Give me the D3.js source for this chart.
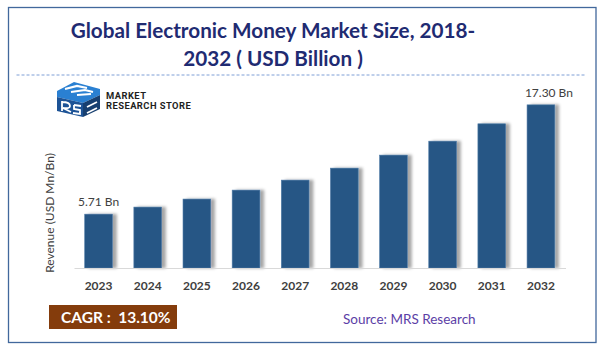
<!DOCTYPE html>
<html>
<head>
<meta charset="utf-8">
<script src="https://cdn.jsdelivr.net/npm/d3@7"></script>
<style>
body { margin: 0; background: #fff; }
svg { display: block; }
</style>
</head>
<body>
<div id="chart"></div>
<script>
// chart data
var years = ["2023", "2024", "2025", "2026", "2027", "2028", "2029", "2030", "2031", "2032"];
var revenue = [5.71, 6.46, 7.31, 8.26, 9.32, 10.59, 11.97, 13.45, 15.29, 17.30];
var barLabels = ["5.71 Bn", "", "", "", "", "", "", "", "", "17.30 Bn"];
var titleLines = ["Global Electronic Money Market Size, 2018-", "2032 ( USD Billion )"];
var logoLines = ["MARKET", "RESEARCH STORE"];
var yTitle = "Revenue (USD Mn/Bn)";
var cagrText = "CAGR :  13.10%";
var sourceText = "Source: MRS Research";

var svgWidth = 601, svgHeight = 349;

var svg = d3.select("#chart")
	.append("svg")
	.attr("width", svgWidth)
	.attr("height", svgHeight);

// shadow for the bars
var defs = svg.append("defs");
var shadow = defs.append("filter")
	.attr("id", "barShadow")
	.attr("x", "-20%").attr("y", "-10%")
	.attr("width", "160%").attr("height", "120%");
shadow.append("feDropShadow")
	.attr("dx", 4).attr("dy", 0)
	.attr("stdDeviation", 1.8)
	.attr("flood-color", "#000")
	.attr("flood-opacity", 0.35);

// outer frame
svg.append("rect")
	.attr("x", 8.5).attr("y", 7.5)
	.attr("width", 587.5).attr("height", 335)
	.attr("fill", "none")
	.attr("stroke", "#41689c")
	.attr("stroke-width", 1.3);

// title
var title = svg.append("text")
	.attr("text-anchor", "middle")
	.style("font-family", "Lato, 'Open Sans', sans-serif")
	.style("font-weight", "bold")
	.style("font-size", "20.7px")
	.attr("fill", "#1f2b72");
title.selectAll("tspan")
	.data(titleLines)
	.enter()
	.append("tspan")
	.attr("x", 273)
	.attr("y", (d, i) => 37.5 + i * 28.5)
	.text(d => d);

// dashed separator
svg.append("line")
	.attr("x1", 16.5).attr("x2", 585)
	.attr("y1", 75).attr("y2", 75)
	.attr("stroke", "#7f9fd6")
	.attr("stroke-width", 1)
	.attr("stroke-dasharray", "3,2");

// logo (cube with RS)
var logo = svg.append("g").attr("transform", "translate(57,82)");
logo.append("path")
	.attr("d", "M0,9 L17,0 L43,7 L43,13 L26,21 L0,15 Z")
	.attr("fill", "#2a80d2");
logo.append("path")
	.attr("d", "M0,15 L26,21 L26,35 L0,29 Z")
	.attr("fill", "#1d5396");
logo.append("path")
	.attr("d", "M26,21 L43,13 L43,27 L26,35 Z")
	.attr("fill", "#173f70");
logo.append("path")
	.attr("d", "M8,7 L20,4 L30,6 M14,10 L28,8 L36,10 M20,13 L34,12")
	.attr("stroke", "#fff")
	.attr("stroke-width", 2.2)
	.attr("fill", "none");
logo.append("path")
	.attr("d", "M5,19 L5,29 M5,20 Q13,20 13,24 Q13,27 6,26 L14,30 M17,23 L24,24 M17,23 L17,27 L23,28 L23,32 L16,31 M30,25 L40,20 M30,31 L40,26")
	.attr("stroke", "#fff")
	.attr("stroke-width", 1.8)
	.attr("fill", "none");
svg.append("g")
	.selectAll("text")
	.data(logoLines)
	.enter()
	.append("text")
	.attr("x", 106)
	.attr("y", (d, i) => 98.7 + i * 10)
	.style("font-family", "'Liberation Sans Narrow', 'Roboto', sans-serif")
	.style("font-weight", "bold")
	.style("font-size", "9.4px")
	.style("letter-spacing", "0.45px")
	.attr("fill", "#1f1f1f")
	.text(d => d);

// scales
var x = d3.scaleBand()
	.domain(years)
	.range([74, 565.5])
	.paddingInner(0.436)
	.paddingOuter(0.218);

var y = d3.scaleLinear()
	.domain([0, 20])
	.range([268, 268 - 20 * 9.43]);

var data = years.map((yr, i) => ({year: yr, value: revenue[i], label: barLabels[i]}));

// bars
svg.append("g")
	.selectAll("rect")
	.data(data)
	.enter()
	.append("rect")
	.attr("x", d => x(d.year))
	.attr("y", d => y(d.value))
	.attr("width", x.bandwidth())
	.attr("height", d => y(0) - y(d.value))
	.attr("fill", "#275785")
	.attr("stroke", "#4f7aa6")
	.attr("stroke-width", 0.6)
	.attr("filter", "url(#barShadow)");

// x axis
var xAxis = svg.append("g")
	.attr("transform", `translate(0,${y(0)})`)
	.call(d3.axisBottom(x).tickSize(0).tickPadding(13));
xAxis.select(".domain")
	.attr("stroke", "#d9d9d9")
	.attr("stroke-width", 1.2);
xAxis.selectAll("text")
	.style("font-family", "Lato, 'Open Sans', sans-serif")
	.style("font-weight", "bold")
	.style("font-size", "12px")
	.attr("fill", "#404040");

// value labels
svg.append("g")
	.selectAll("text")
	.data(data.filter(d => d.label))
	.enter()
	.append("text")
	.attr("x", (d, i) => x(d.year) + x.bandwidth() / 2 + (i == 0 ? 0 : 8))
	.attr("y", d => y(d.value) - 8)
	.attr("text-anchor", "middle")
	.style("font-family", "Lato, 'Open Sans', sans-serif")
	.style("font-size", "12px")
	.attr("fill", "#404040")
	.text(d => d.label);

// y axis title
svg.append("text")
	.attr("transform", "translate(54,213) rotate(-90)")
	.attr("text-anchor", "middle")
	.style("font-family", "Lato, 'Open Sans', sans-serif")
	.style("font-size", "12px")
	.attr("fill", "#404040")
	.text(yTitle);

// CAGR box
svg.append("rect")
	.attr("x", 49).attr("y", 305)
	.attr("width", 128).attr("height", 24)
	.attr("fill", "#843c0c");
svg.append("text")
	.attr("x", 61).attr("y", 323)
	.style("font-family", "Lato, 'Open Sans', sans-serif")
	.style("font-weight", "bold")
	.style("font-size", "15.5px")
	.style("white-space", "pre")
	.attr("fill", "#fff")
	.text(cagrText);

// source
svg.append("text")
	.attr("x", 343).attr("y", 323.5)
	.style("font-family", "Lato, 'Open Sans', sans-serif")
	.style("font-size", "13.5px")
	.attr("fill", "#5b3ea6")
	.text(sourceText);
</script>
</body>
</html>
